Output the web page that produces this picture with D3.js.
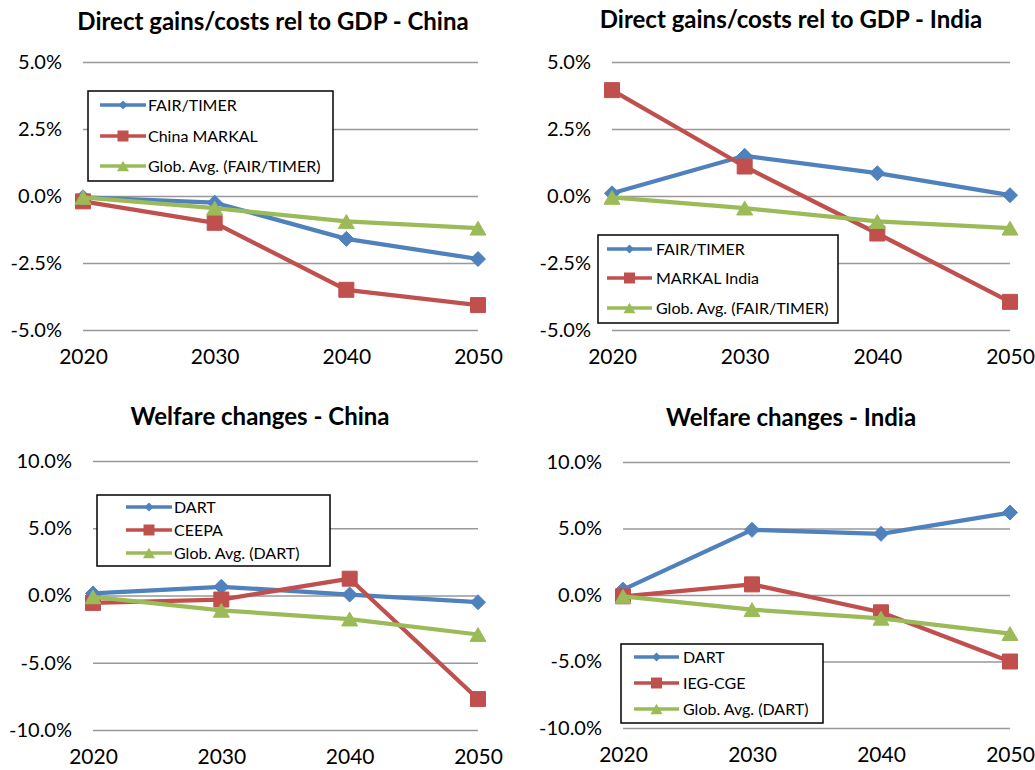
<!DOCTYPE html>
<html>
<head>
<meta charset="utf-8">
<script src="https://cdn.jsdelivr.net/npm/d3@7"></script>
<style>
  body { margin: 0; background: #fff; }
  text { font-family: Lato, "Open Sans", sans-serif; }
</style>
</head>
<body>
<script>
// data (shares of GDP)
var years = [2020, 2030, 2040, 2050];

var chinaFairTimer = [-0.0005, -0.0025, -0.016, -0.0235];
var chinaMarkal = [-0.002, -0.010, -0.035, -0.0407];
var globAvgFairTimer = [-0.0005, -0.0045, -0.0095, -0.012];
var indiaFairTimer = [0.001, 0.015, 0.0085, 0.0003];
var indiaMarkal = [0.0395, 0.011, -0.014, -0.0395];

var chinaDart = [0.0015, 0.0065, 0.0007, -0.005];
var chinaCeepa = [-0.0055, -0.003, 0.0125, -0.077];
var globAvgDart = [-0.001, -0.011, -0.0175, -0.029];
var indiaDart = [0.004, 0.049, 0.046, 0.062];
var indiaIegCge = [-0.001, 0.008, -0.013, -0.050];

var directTicks = [-0.05, -0.025, 0, 0.025, 0.05];
var welfareTicks = [-0.10, -0.05, 0, 0.05, 0.10];

var blue = "#4F81BD", red = "#C0504D", green = "#9BBB59";

// marker shapes, size = width in px
var diamond = { draw: function (ctx, s) { var r = s / 2; ctx.moveTo(0, -r); ctx.lineTo(r, 0); ctx.lineTo(0, r); ctx.lineTo(-r, 0); ctx.closePath(); } };
var square = { draw: function (ctx, s) { var r = s / 2; ctx.rect(-r, -r, s, s); } };
var triangle = { draw: function (ctx, s) { var h = s * 0.866; ctx.moveTo(0, -h / 2); ctx.lineTo(s / 2, h / 2); ctx.lineTo(-s / 2, h / 2); ctx.closePath(); } };
var markerSize = { diamond: 15, square: 15, triangle: 16 };
var legendMarkerSize = { diamond: 9, square: 11, triangle: 12 };
var shapes = { diamond: diamond, square: square, triangle: triangle };

var fmt = function (d) { return d3.format(".1%")(d).replace("\u2212", "-"); };

var panels = [
  {
    title: "Direct gains/costs rel to GDP - China", titleX: 273, titleY: 30,
    left: 83, right: 478, top: 62, bottom: 330, domain: [-0.05, 0.05], ticks: directTicks,
    series: [
      { name: "FAIR/TIMER", values: chinaFairTimer, color: blue, shape: "diamond" },
      { name: "China MARKAL", values: chinaMarkal, color: red, shape: "square" },
      { name: "Glob. Avg. (FAIR/TIMER)", values: globAvgFairTimer, color: green, shape: "triangle" }
    ],
    legend: { x0: 88, x1: 333, y0: 91, y1: 181, lx0: 100, lx1: 146, tx: 148, rows: [105, 136, 166] }
  },
  {
    title: "Direct gains/costs rel to GDP - India", titleX: 791, titleY: 28,
    left: 612, right: 1010, top: 62, bottom: 330, domain: [-0.05, 0.05], ticks: directTicks,
    series: [
      { name: "FAIR/TIMER", values: indiaFairTimer, color: blue, shape: "diamond" },
      { name: "MARKAL India", values: indiaMarkal, color: red, shape: "square" },
      { name: "Glob. Avg. (FAIR/TIMER)", values: globAvgFairTimer, color: green, shape: "triangle" }
    ],
    legend: { x0: 598, x1: 838, y0: 235, y1: 323, lx0: 607, lx1: 652, tx: 656, rows: [249, 278, 308] }
  },
  {
    title: "Welfare changes - China", titleX: 260, titleY: 425,
    left: 93, right: 478, top: 461, bottom: 730, domain: [-0.10, 0.10], ticks: welfareTicks,
    series: [
      { name: "DART", values: chinaDart, color: blue, shape: "diamond" },
      { name: "CEEPA", values: chinaCeepa, color: red, shape: "square" },
      { name: "Glob. Avg. (DART)", values: globAvgDart, color: green, shape: "triangle" }
    ],
    legend: { x0: 97, x1: 330, y0: 495, y1: 566, lx0: 126, lx1: 172, tx: 174, rows: [507, 530, 553] }
  },
  {
    title: "Welfare changes - India", titleX: 791, titleY: 426,
    left: 623, right: 1010, top: 462, bottom: 728, domain: [-0.10, 0.10], ticks: welfareTicks,
    series: [
      { name: "DART", values: indiaDart, color: blue, shape: "diamond" },
      { name: "IEG-CGE", values: indiaIegCge, color: red, shape: "square" },
      { name: "Glob. Avg. (DART)", values: globAvgDart, color: green, shape: "triangle" }
    ],
    legend: { x0: 621, x1: 823, y0: 644, y1: 723, lx0: 634, lx1: 679, tx: 683, rows: [657, 683, 709] }
  }
];

function drawPanel(svg, p) {
  var x = d3.scaleLinear().domain([2020, 2050]).range([p.left, p.right]);
  var y = d3.scaleLinear().domain(p.domain).range([p.bottom, p.top]);
  var g = svg.append("g");

  g.append("text")
    .attr("x", p.titleX)
    .attr("y", p.titleY)
    .attr("text-anchor", "middle")
    .attr("font-weight", "bold")
    .attr("font-size", 24)
    .text(p.title);

  // y axis with gridlines
  var yAxis = g.append("g")
    .attr("transform", "translate(" + p.left + ",0)")
    .call(d3.axisLeft(y).tickValues(p.ticks).tickSize(-(p.right - p.left)).tickPadding(21).tickFormat(fmt));
  yAxis.select(".domain").remove();
  yAxis.selectAll("line").attr("stroke", "#999").attr("stroke-width", 1.5);
  yAxis.selectAll("text").attr("font-size", 20).attr("fill", "#000");

  // x axis, labels only
  var xAxis = g.append("g")
    .attr("transform", "translate(0," + p.bottom + ")")
    .call(d3.axisBottom(x).tickValues(years).tickSize(0).tickPadding(19).tickFormat(d3.format("d")));
  xAxis.select(".domain").remove();
  xAxis.selectAll("text").attr("font-size", 21).attr("fill", "#000");

  var line = d3.line()
    .x(function (d, i) { return x(years[i]); })
    .y(function (d) { return y(d); });

  // series drawn in order so later ones sit on top
  p.series.forEach(function (s) {
    var sg = g.append("g");
    sg.append("path")
      .attr("d", line(s.values))
      .attr("fill", "none")
      .attr("stroke", s.color)
      .attr("stroke-width", 4.25)
      .attr("stroke-linejoin", "round");
    sg.selectAll("path.mark")
      .data(s.values)
      .enter()
      .append("path")
      .attr("class", "mark")
      .attr("transform", function (d, i) { return "translate(" + x(years[i]) + "," + y(d) + ")"; })
      .attr("d", d3.symbol().type(shapes[s.shape]).size(markerSize[s.shape]))
      .attr("fill", s.color)
      .attr("stroke", s.color)
      .attr("stroke-width", 1);
  });

  // legend
  var L = p.legend;
  var lg = g.append("g");
  lg.append("rect")
    .attr("x", L.x0).attr("y", L.y0)
    .attr("width", L.x1 - L.x0).attr("height", L.y1 - L.y0)
    .attr("fill", "#fff").attr("stroke", "#000").attr("stroke-width", 1.5);
  var items = lg.selectAll("g.item")
    .data(p.series)
    .enter()
    .append("g")
    .attr("class", "item")
    .attr("transform", function (d, i) { return "translate(0," + L.rows[i] + ")"; });
  items.append("line")
    .attr("x1", L.lx0).attr("x2", L.lx1)
    .attr("stroke", function (d) { return d.color; })
    .attr("stroke-width", 3.5);
  items.append("path")
    .attr("transform", "translate(" + (L.lx0 + L.lx1) / 2 + ",0)")
    .attr("d", function (d) { return d3.symbol().type(shapes[d.shape]).size(legendMarkerSize[d.shape])(); })
    .attr("fill", function (d) { return d.color; });
  items.append("text")
    .attr("x", L.tx)
    .attr("dy", "0.35em")
    .attr("font-size", 16)
    .text(function (d) { return d.name; });
}

function init() {
  var svg = d3.select("body")
    .append("svg")
    .attr("width", 1035)
    .attr("height", 770);
  svg.append("rect").attr("width", 1035).attr("height", 770).attr("fill", "#fff");
  panels.forEach(function (p) { drawPanel(svg, p); });
}
window.onload = init;
</script>
</body>
</html>
